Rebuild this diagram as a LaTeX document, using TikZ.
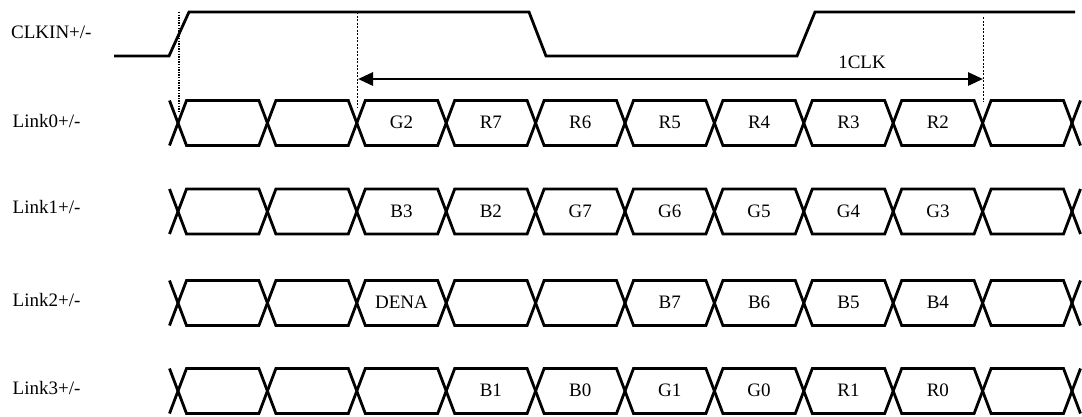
\documentclass[tikz,border=0pt]{standalone}
\usepackage{fontspec}
\setmainfont{Liberation Serif}
\usetikzlibrary{arrows.meta}
\tikzset{
  wave/.style={line width=2.8pt, line join=miter, black},
  lbl/.style={inner sep=0pt, font=\fontsize{19}{22}\selectfont},
  guide/.style={line width=1pt, dash pattern=on 2pt off 1.5pt},
  dotguide/.style={line width=2pt, dash pattern=on 1.3pt off 1.3pt},
  span/.style={line width=2.8pt, {Triangle[length=15pt,width=13pt]}-{Triangle[length=15pt,width=13pt]}}
}
\begin{document}
\begin{tikzpicture}[x=1pt,y=-1pt]
\useasboundingbox (0,0) rectangle (1082,416);
% clock
\coordinate (c0) at (114,56);
\coordinate (c1) at (169,56);
\coordinate (c2) at (189,12);
\coordinate (c3) at (529,12);
\coordinate (c4) at (546,56);
\coordinate (c5) at (797,56);
\coordinate (c6) at (815,12);
\coordinate (c7) at (1075,12);
\draw[wave] (c0) -- (c1) -- (c2) -- (c3) -- (c4) -- (c5) -- (c6) -- (c7);
\node[lbl, anchor=base west] (clkin) at (11,38) {CLKIN+/-};
% guides
\coordinate (d0) at (179,12);
\coordinate (d1) at (179,112);
\draw[dotguide] (d0) -- (d1);
\coordinate (g0) at (357.5,12);
\coordinate (g1) at (357.5,108);
\draw[guide] (g0) -- (g1);
\coordinate (h0) at (983,17);
\coordinate (h1) at (983,102);
\draw[guide] (h0) -- (h1);
\coordinate (a0) at (358,79);
\coordinate (a1) at (983,79);
\draw[span] (a0) -- (a1);
\node[lbl, anchor=base] (clk) at (862,68) {1CLK};
% data rows
\def\per{89.4}
\def\dx{8.5}
\foreach \r/\yc/\yb/\lb/\cells in {
  0/123/128/127.5/{{},{},G2,R7,R6,R5,R4,R3,R2,{}},
  1/211.5/217/213.5/{{},{},B3,B2,G7,G6,G5,G4,G3,{}},
  2/303/308/306/{{},{},DENA,{},{},B7,B6,B5,B4,{}},
  3/391/396.5/394/{{},{},{},B1,B0,G1,G0,R1,R0,{}}}{
  \pgfmathsetmacro{\yt}{\yc-22.5}
  \pgfmathsetmacro{\ybo}{\yc+22.5}
  \node[lbl, anchor=base west] (link\r) at (12.5,\lb) {Link\r+/-};
  % left and right X legs
  \draw[wave] (178-\dx,\yt) -- (178,\yc) -- (178-\dx,\ybo);
  \draw[wave] (178+10*\per+\dx,\yt) -- (178+10*\per,\yc) -- (178+10*\per+\dx,\ybo);
  \foreach \t [count=\k from 0] in \cells {
    \pgfmathsetmacro{\xa}{178+\k*\per}
    \pgfmathsetmacro{\xb}{178+(\k+1)*\per}
    \draw[wave] (\xa,\yc) -- (\xa+\dx,\yt) -- (\xb-\dx,\yt) -- (\xb,\yc) -- (\xb-\dx,\ybo) -- (\xa+\dx,\ybo) -- cycle;
    \node[lbl, anchor=base] (cell\r-\k) at ({(\xa+\xb)/2},\yb) {\t};
  }
}
\end{tikzpicture}
\end{document}
